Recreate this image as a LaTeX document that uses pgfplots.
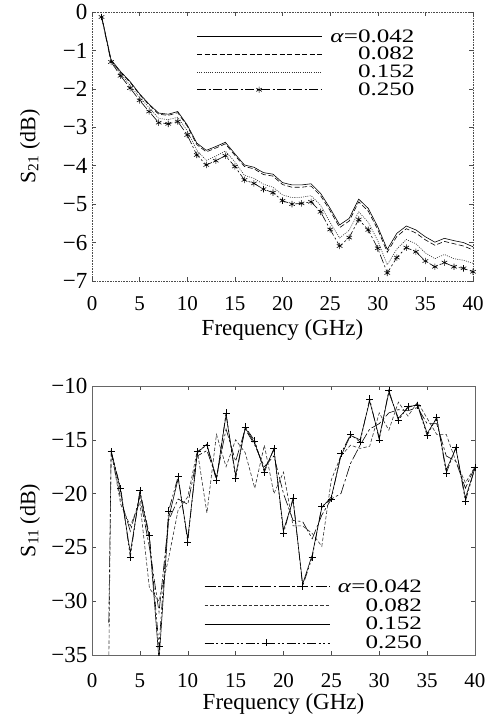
\documentclass[border=0pt]{standalone}
\usepackage{pgfplots}
\pgfplotsset{compat=1.18}
\usepackage{pgfplotstable}
\usepackage{fontspec}
\setmainfont{Liberation Serif}
\newfontfamily\legfontw[FakeStretch=1.32]{Liberation Serif}

\pgfplotstableread{
x s042 s082 s152 s250
1 -0.10 -0.10 -0.12 -0.13
2 -1.24 -1.26 -1.28 -1.30
3 -1.55 -1.57 -1.60 -1.66
4 -1.81 -1.83 -1.91 -1.98
5 -2.13 -2.15 -2.22 -2.30
6 -2.40 -2.42 -2.49 -2.59
7 -2.63 -2.66 -2.77 -2.88
8 -2.66 -2.69 -2.80 -2.91
9 -2.59 -2.62 -2.74 -2.85
10 -2.94 -2.97 -3.09 -3.20
11 -3.41 -3.45 -3.60 -3.72
12 -3.60 -3.64 -3.86 -3.98
13 -3.50 -3.54 -3.75 -3.87
14 -3.39 -3.43 -3.62 -3.74
15 -3.69 -3.73 -3.90 -4.02
16 -3.98 -4.02 -4.25 -4.37
17 -4.04 -4.08 -4.33 -4.46
18 -4.18 -4.23 -4.48 -4.61
19 -4.22 -4.27 -4.56 -4.70
20 -4.44 -4.49 -4.76 -4.91
21 -4.50 -4.56 -4.83 -5.00
22 -4.50 -4.56 -4.82 -4.98
23 -4.47 -4.53 -4.78 -4.94
24 -4.72 -4.78 -5.03 -5.20
25 -5.11 -5.17 -5.48 -5.66
26 -5.54 -5.61 -5.88 -6.09
27 -5.37 -5.44 -5.68 -5.87
28 -4.87 -4.94 -5.20 -5.40
29 -5.11 -5.18 -5.47 -5.67
30 -5.59 -5.66 -5.95 -6.15
31 -6.18 -6.25 -6.58 -6.79
32 -5.76 -5.84 -6.17 -6.39
33 -5.57 -5.64 -5.92 -6.13
34 -5.67 -5.75 -6.03 -6.24
35 -5.85 -5.93 -6.27 -6.48
36 -5.99 -6.07 -6.42 -6.63
37 -5.89 -5.97 -6.31 -6.52
38 -5.95 -6.03 -6.42 -6.63
39 -6.00 -6.09 -6.46 -6.67
40 -6.11 -6.19 -6.54 -6.76
}\sTwoOne

\pgfplotstableread{
x s042 s082
1.75 -32.0 -36.0
2 -16.2 -16.0
3 -20.5 -21.0
4 -23.5 -23.0
5 -20.3 -20.8
6 -25.0 -28.8
7 -31.0 -30.0
8 -22.5 -26.0
9 -20.5 -21.5
10 -21.0 -20.3
11 -16.5 -16.0
12 -16.0 -21.8
13 -18.5 -14.5
14 -14.0 -17.5
15 -17.0 -15.0
16 -14.0 -16.2
17 -15.5 -19.5
18 -17.5 -15.5
19 -16.5 -20.0
20 -20.0 -18.0
21 -22.5 -23.0
22 -22.6 -23.0
23 -24.2 -23.7
24 -22.0 -24.9
25 -20.5 -18.7
26 -20.0 -16.5
27 -17.2 -15.5
28 -15.5 -15.8
29 -14.0 -15.6
30 -13.5 -12.5
31 -12.5 -14.1
32 -12.2 -11.5
33 -12.3 -12.8
34 -12.0 -11.5
35 -13.5 -13.0
36 -13.5 -14.5
37 -16.5 -14.5
38 -17.0 -17.0
39 -19.5 -19.0
40 -17.5 -17.5
}\sOneOneA

\pgfplotstableread{
x s152 s250
2 -16.0 -16.1
3 -19.8 -19.5
4 -25.5 -25.9
5 -19.9 -19.7
6 -24.2 -23.9
7 -35.5 -34.2
8 -22.3 -21.6
9 -18.6 -18.4
10 -24.2 -24.5
11 -16.2 -16.1
12 -15.4 -15.5
13 -18.6 -18.8
14 -12.7 -12.5
15 -18.3 -18.6
16 -13.9 -13.8
17 -15.3 -15.1
18 -17.8 -18.0
19 -15.9 -15.8
20 -23.4 -23.7
21 -20.6 -20.4
22 -28.4 -28.6
23 -25.7 -25.9
24 -21.3 -21.2
25 -20.3 -20.5
26 -16.5 -16.3
27 -14.6 -14.5
28 -15.0 -15.2
29 -11.4 -11.2
30 -14.8 -15.0
31 -10.6 -10.4
32 -13.0 -13.2
33 -12.0 -11.9
34 -11.7 -11.8
35 -14.4 -14.6
36 -13.0 -12.9
37 -17.8 -18.1
38 -15.8 -15.7
39 -20.4 -20.7
40 -17.6 -17.6
}\sOneOneB

\pgfplotsset{
  myaxis/.style={
    scale only axis,
    xmin=0, xmax=40,
    xtick={0,5,...,40},
    tick align=inside,
    major tick length=4pt,
    tick style={black!70, line width=0.5pt},
    ticklabel style={font=\fontsize{21}{21}\selectfont},
    yticklabel style={font=\fontsize{23}{23}\selectfont, xshift=-1pt},
    xticklabel style={anchor=center},
    /pgf/number format/assume math mode=true,
    xlabel={Frequency (GHz)},
    xlabel style={font=\fontsize{23}{23}\selectfont, at={(rel axis cs:0.5,0)}, anchor=center},
    ylabel style={font=\fontsize{22}{22}\selectfont, at={(rel axis cs:0,0.5)}, anchor=center, yshift=62pt},
    legend cell align=right,
    legend style={draw=none, fill=none, inner sep=0pt, outer sep=0pt,
      font=\legfontw\fontsize{19}{19}\selectfont,
      nodes={inner sep=0pt, outer sep=0pt},
      column sep=8pt},
    legend image code/.code={\draw[mark repeat=2,mark phase=2,#1] plot coordinates {(0pt,0pt) (62pt,0pt) (125pt,0pt)};},
    every axis plot/.append style={line width=0.6pt},
  }
}

\begin{document}
\begin{tikzpicture}
\useasboundingbox (0,0) rectangle (494pt,726pt);

\begin{axis}[myaxis,
  at={(92pt,445pt)}, anchor=south west,
  width=381pt, height=269pt,
  ymin=-7, ymax=0,
  ytick={-7,-6,...,0},
  yticklabels={−7,−6,−5,−4,−3,−2,−1,0},
  xticklabel style={yshift=-23pt},
  xlabel style={yshift=-49pt},
  ylabel={S\textsubscript{21} (dB)},
  axis line style={black!70, densely dotted, line width=0.6pt},
  legend style={at={(rel axis cs:0.275,0.935)}, anchor=north west, row sep=3.6pt},
]
\addplot[black, solid] table[x=x,y=s042] {\sTwoOne};
\addlegendentry{\textit{α}=0.042}
\addplot[black, dash pattern=on 5pt off 2.5pt] table[x=x,y=s082] {\sTwoOne};
\addlegendentry{0.082}
\addplot[black!80, dash pattern=on 1pt off 1.2pt] table[x=x,y=s152] {\sTwoOne};
\addlegendentry{0.152}
\addplot[black, dash pattern=on 9pt off 2.5pt on 2pt off 2.5pt, mark=asterisk, mark size=3.2pt, mark options={solid, line width=0.6pt}] table[x=x,y=s250] {\sTwoOne};
\addlegendentry{0.250}
\end{axis}

\begin{axis}[myaxis,
  at={(92pt,71pt)}, anchor=south west,
  width=383pt, height=269pt,
  ymin=-35, ymax=-10,
  ytick={-35,-30,...,-10},
  yticklabels={−35,−30,−25,−20,−15,−10},
  xticklabel style={yshift=-26pt},
  xlabel style={yshift=-49pt},
  ylabel={S\textsubscript{11} (dB)},
  axis line style={black!60, line width=0.6pt},
  legend style={at={(rel axis cs:0.293,0.28)}, anchor=north west, row sep=4.6pt},
]
\addplot[black, dash pattern=on 11pt off 2.5pt on 2.5pt off 2.5pt] table[x=x,y=s042] {\sOneOneA};
\addlegendentry{\textit{α}=0.042}
\addplot[black!80, dash pattern=on 3.5pt off 2pt] table[x=x,y=s082] {\sOneOneA};
\addlegendentry{0.082}
\addplot[black, solid] table[x=x,y=s152] {\sOneOneB};
\addlegendentry{0.152}
\addplot[black, dash pattern=on 9pt off 2.5pt on 2pt off 2.5pt on 2pt off 2.5pt, mark=+, mark size=3.5pt, mark options={solid, line width=0.6pt}] table[x=x,y=s250] {\sOneOneB};
\addlegendentry{0.250}
\end{axis}
\end{tikzpicture}
\end{document}
